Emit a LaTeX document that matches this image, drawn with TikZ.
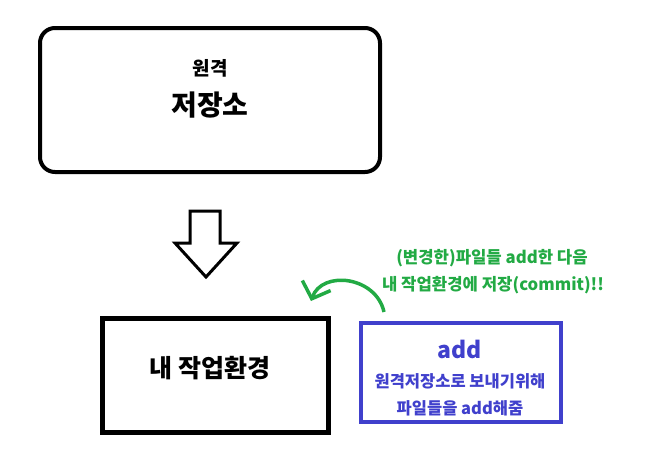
\documentclass[tikz,border=0pt]{standalone}
\usepackage{fontspec}
\setmainfont{Noto Sans CJK KR}
\usetikzlibrary{arrows.meta}

\definecolor{addblue}{RGB}{64,64,204}
\definecolor{notegreen}{RGB}{34,170,68}

\tikzstyle{repo} = [draw, line width=4pt, rounded corners=15pt, minimum width=340pt, minimum height=144pt]
\tikzstyle{work} = [draw, line width=5pt, minimum width=226pt, minimum height=114pt]
\tikzstyle{addbox} = [draw=addblue, line width=4pt, minimum width=200pt, minimum height=99pt]
\tikzstyle{txt} = [font=\bfseries, inner sep=0pt]

\begin{document}
\begin{tikzpicture}[x=1pt, y=-1pt]
\useasboundingbox (0,0) rectangle (651,453);
%원격 저장소
\node[repo] (remote) at (210,100) {};
\node[txt, font=\bfseries\fontsize{19}{22}\selectfont] (remotetop) at (210,68) {원격};
\node[txt, font=\bfseries\fontsize{28}{32}\selectfont] (remotename) at (210,105) {저장소};
%내 작업환경
\node[work] (local) at (215,375) {};
\node[txt, font=\bfseries\fontsize{25}{29}\selectfont] (localname) at (210,368) {내 작업환경};
%add 상자
\node[addbox] (add) at (461,372.5) {};
\node[txt, text=addblue, font=\bfseries\fontsize{23}{27}\selectfont] (addword) at (460,349) {add};
\node[txt, text=addblue, font=\bfseries\fontsize{16.5}{19}\selectfont] (addline1) at (460,381) {원격저장소로 보내기위해};
\node[txt, text=addblue, font=\bfseries\fontsize{16.5}{19}\selectfont] (addline2) at (460,408) {파일들을 add해줌};
%설명
\node[txt, text=notegreen, font=\bfseries\fontsize{16.7}{19}\selectfont] (note1) at (492,258) {(변경한)파일들 add한 다음};
\node[txt, text=notegreen, font=\bfseries\fontsize{16.7}{19}\selectfont] (note2) at (493,285) {내 작업환경에 저장(commit)!!};
%아래 화살표
\draw[line width=3pt, line join=miter] (190,211) -- (220,211) -- (220,243) -- (237,243)
    -- (206,277) -- (175,243) -- (190,243) -- cycle;
%초록 화살표
\coordinate (curvestart) at (384,312);
\coordinate (curveend) at (311,301);
\draw[notegreen, line width=3.5pt, -{Straight Barb[length=14pt, width=30pt, line width=3.5pt]}]
    (curvestart) .. controls (376,276) and (322,270) .. (curveend);
\end{tikzpicture}
\end{document}
